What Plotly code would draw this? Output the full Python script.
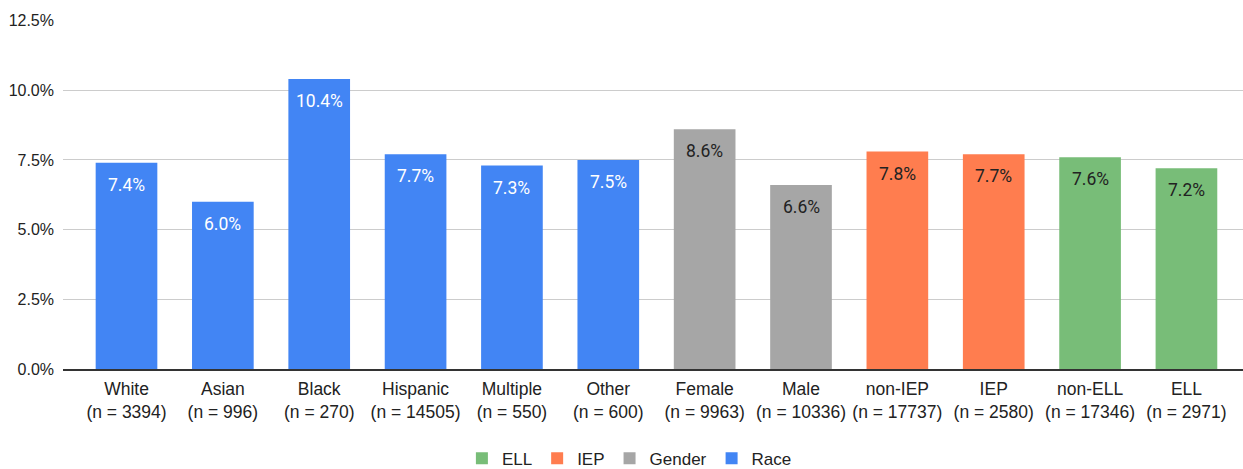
import plotly.graph_objects as go

categories = ["White", "Asian", "Black", "Hispanic", "Multiple", "Other",
              "Female", "Male", "non-IEP", "IEP", "non-ELL", "ELL"]
n_counts = [3394, 996, 270, 14505, 550, 600, 9963, 10336, 17737, 2580, 17346, 2971]
rates = [7.4, 6.0, 10.4, 7.7, 7.3, 7.5, 8.6, 6.6, 7.8, 7.7, 7.6, 7.2]
groups = ["Race", "Race", "Race", "Race", "Race", "Race",
          "Gender", "Gender", "IEP", "IEP", "ELL", "ELL"]

legend_order = ["ELL", "IEP", "Gender", "Race"]
group_colors = {"ELL": "#78BD78", "IEP": "#FF7D4F", "Gender": "#A6A6A6", "Race": "#4285F4"}
label_colors = {"ELL": "#222222", "IEP": "#222222", "Gender": "#222222", "Race": "#FFFFFF"}

tick_labels = [f"{c}<br>(n = {n})" for c, n in zip(categories, n_counts)]

fig = go.Figure()
for g in legend_order:
    idx = [i for i, gg in enumerate(groups) if gg == g]
    fig.add_trace(go.Bar(
        x=[categories[i] for i in idx],
        y=[rates[i] for i in idx],
        name=g,
        marker=dict(color=group_colors[g], line=dict(width=0)),
        width=0.64,
        hoverinfo="x+y",
    ))

for c, v, g in zip(categories, rates, groups):
    fig.add_annotation(
        x=c, y=v, text=f"{v:.1f}%", showarrow=False,
        yanchor="middle", yshift=-22,
        font=dict(family="Roboto", size=17.5, color=label_colors[g]),
    )

fig.update_layout(
    width=1243, height=469,
    margin=dict(l=63, r=0, t=20, b=100, autoexpand=False),
    paper_bgcolor="white", plot_bgcolor="white",
    barmode="overlay",
    font=dict(family="Arial, Liberation Sans, sans-serif", size=16, color="#222222"),
    showlegend=True,
    legend=dict(
        orientation="h", x=0.48, xanchor="center", y=-0.257, yanchor="middle",
        font=dict(size=17, color="#222222"),
        traceorder="normal",
    ),
    xaxis=dict(
        type="category", automargin=False,
        categoryorder="array", categoryarray=categories,
        tickmode="array", tickvals=categories, ticktext=tick_labels,
        range=[-0.659, 11.587],
        showline=True, linecolor="#333333", linewidth=1.5,
        showgrid=False, ticks="",
        ticklabelstandoff=3,
        tickfont=dict(size=17.5, color="#222222"),
    ),
    yaxis=dict(
        range=[0, 12.52], automargin=False,
        tickmode="array", tickvals=[0, 2.5, 5, 7.5, 10, 12.5],
        ticktext=["0.0%", "2.5%", "5.0%", "7.5%", "10.0%", "12.5%"],
        showgrid=True, gridcolor="#CCCCCC", gridwidth=1,
        zeroline=False, ticks="",
        ticklabelstandoff=8,
        tickfont=dict(size=16, color="#222222"),
    ),
)

fig.write_html("out.html")
